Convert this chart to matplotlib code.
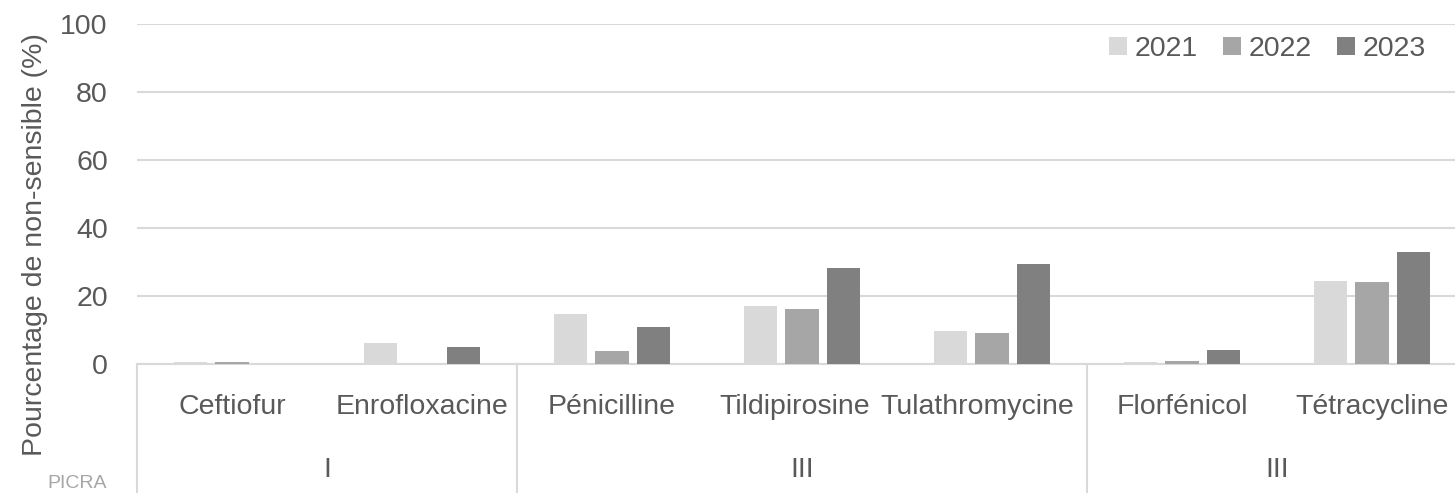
import matplotlib.pyplot as plt
import numpy as np

plt.rcParams['font.family'] = ['Liberation Sans', 'DejaVu Sans']

# ---------------------------------------------------------------------------
# Data
# ---------------------------------------------------------------------------

drugs  = ["Ceftiofur", "Enrofloxacine", "Pénicilline", "Tildipirosine",
          "Tulathromycine", "Florfénicol", "Tétracycline"]
groups = ["I", "III", "III"]
group_sizes = [2, 3, 2]

years   = ["2021", "2022", "2023"]
v_2021  = [0.5, 6.2, 14.8, 17.2, 9.6, 0.5, 24.3]
v_2022  = [0.6, 0.0, 3.9, 16.1, 9.2, 0.9, 24.0]
v_2023  = [0.0, 5.1, 10.8, 28.1, 29.3, 4.0, 33.0]
colors  = ["#d9d9d9", "#a6a6a6", "#808080"]

text_col = "#595959"
grid_col = "#d9d9d9"
fs       = 20.5

# ---------------------------------------------------------------------------
# Figure
# ---------------------------------------------------------------------------

fig = plt.figure(figsize=(14.55, 4.93), dpi=100)
ax  = fig.add_axes([137 / 1455, 129 / 493, 1330 / 1455, 340 / 493])

x     = np.arange(len(drugs))
width = 0.174
step  = 0.216

for k, (yr, vals, c) in enumerate(zip(years, [v_2021, v_2022, v_2023], colors)):
    ax.bar(x + (k - 1) * step, vals, width, color=c, label=yr, zorder=3)

ax.set_xlim(-0.5, len(drugs) - 0.5)
ax.set_ylim(0, 100)
ax.set_yticks(range(0, 101, 20))
ax.tick_params(axis="y", length=0, pad=21, labelsize=fs, labelcolor=text_col)
ax.set_xticks([])
ax.grid(axis="y", color=grid_col, linewidth=1.5, zorder=0)
for s in ["top", "right", "left"]:
    ax.spines[s].set_visible(False)
ax.spines["bottom"].set_color(grid_col)
ax.spines["bottom"].set_linewidth(1.5)

# Multi-level category axis (Excel nudges the two crowded labels left)
trans = ax.get_xaxis_transform()
nudge = {"Tildipirosine": -0.04, "Tulathromycine": -0.08}
for i, name in enumerate(drugs):
    ax.text(i + nudge.get(name, 0), -0.126, name, transform=trans,
            ha="center", va="center", fontsize=fs, color=text_col)

start = 0
edges = [-0.5]
for g, n in zip(groups, group_sizes):
    mid = start + (n - 1) / 2
    ax.text(mid, -0.312, g, transform=trans, ha="center", va="center",
            fontsize=fs, color=text_col)
    start += n
    edges.append(start - 0.5)

for e in edges:
    ax.plot([e, e], [0, -0.38], transform=trans, color=grid_col,
            linewidth=1.5, clip_on=False)

fig.text(35 / 1455, 1 - 245 / 493, "Pourcentage de non-sensible (%)",
         rotation=90, ha="center", va="center", fontsize=fs, color=text_col)
fig.text(77 / 1455, 1 - 484 / 493, "PICRA", ha="center", va="center",
         fontsize=14, color="#a6a6a6")

ax.legend(loc="center right", bbox_to_anchor=(1426 / 1455, 1 - 49 / 493),
          bbox_transform=fig.transFigure, ncol=3, frameon=False,
          fontsize=fs, labelcolor=text_col, handlelength=0.63,
          handleheight=0.63, handletextpad=0.28, columnspacing=0.88,
          borderpad=0, borderaxespad=0)

fig.savefig("out.png", dpi=100)
